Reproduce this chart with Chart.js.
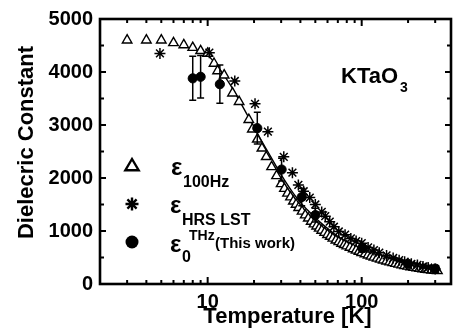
<!DOCTYPE html>
<html><head><meta charset="utf-8">
<script src="https://cdn.jsdelivr.net/npm/chart.js@4/dist/chart.umd.min.js"></script>
<style>html,body{margin:0;padding:0;background:#fff}#wrap{width:458px;height:332px}</style>
</head><body><div id="wrap"><canvas id="c" width="458" height="332"></canvas></div>
<script>
// ---- data ----
const triT   = [3,4,5,6,7,8,9,10,11,11.6,12.8,14.5,16,18.5,19.5,21,22.5,24,26,28,30,31.5,33,34.5,36,37.5,39,41,43,45,47,49,51,53,55,57.5,60,62.5,65,68,71,74,77,80,84,88,92,96,100,105,110,115,120,126,132,138,145,152,159,166,174,182,190,199,208,218,228,238,249,260,272,284,297,310];
const triEps = [4600,4600,4600,4550,4510,4460,4400,4350,4160,4020,3940,3600,3440,3100,2920,2730,2560,2400,2210,2040,1890,1800,1710,1640,1560,1500,1440,1370,1300,1240,1180,1130,1090,1050,1010,970,930,895,860,825,795,765,740,715,690,660,635,612,590,565,542,522,503,483,464,447,430,413,398,384,370,357,345,333,322,311,301,292,283,275,267,260,253,247];
const hrsT   = [4.9,10.25,15,20.3,24.6,31.2,35.5,38.8,42,46,50,55,58,62,66,71,78,85,92,100,110,120,130,145,160,175,190,210,230,250,270,300];
const hrsEps = [4350,4365,3830,3400,2875,2400,2100,1870,1750,1630,1500,1360,1280,1176,1080,990,930,860,810,770,690,640,590,540,490,450,420,380,360,330,310,285];
const thzT   = [8,9,12,21,30.2,40.8,50,101,200,300];
const thzEps = [3880,3910,3770,2940,2160,1640,1300,673,380,290];
const thzErr = [415,400,360,300,215,165,130,70,40,30];
const fitT   = [10,12,14,16,18,20,22,25,28,32,36,40,45,50,56,63,70,80,90,100,120,140,170,200,240,280,320];
const fitEps = [4330,4050,3760,3470,3200,2960,2740,2460,2210,1930,1710,1540,1380,1250,1120,1000,900,800,720,660,560,490,415,360,310,275,250];
const xLabels = [10,100];
const yMinorStep = 500;

const FONT = "'Liberation Sans', Arial, Helvetica, sans-serif";
const pts = (xs, ys) => xs.map((x,i)=>({x, y: ys[i]}));

const framePlugin = {
  id: 'frame',
  afterDraw(chart) {
    const {ctx, chartArea: a, scales: {x, y}} = chart;
    ctx.save();
    ctx.strokeStyle = '#000';
    ctx.lineWidth = 2;
    ctx.beginPath();
    for (let v = 0; v <= 5000; v += yMinorStep) {
      const py = y.getPixelForValue(v);
      const len = (v % 1000 === 0) ? 6 : 4;
      ctx.moveTo(a.left, py); ctx.lineTo(a.left + len, py);
      ctx.moveTo(a.right, py); ctx.lineTo(a.right - len, py);
    }
    [1, 10, 100].forEach(d => {
      for (let m = 1; m <= 9; m++) {
        const v = m * d;
        if (v < x.min || v > x.max) continue;
        const px = x.getPixelForValue(v);
        const len = (m === 1) ? 7 : 4;
        ctx.moveTo(px, a.bottom); ctx.lineTo(px, a.bottom - len);
        ctx.moveTo(px, a.top); ctx.lineTo(px, a.top + len);
      }
    });
    ctx.stroke();
    ctx.lineWidth = 2.6;
    ctx.strokeRect(a.left, a.top, a.right - a.left, a.bottom - a.top);
    // error bars
    ctx.lineWidth = 1.5;
    ctx.beginPath();
    thzT.forEach((t, i) => {
      const px = x.getPixelForValue(t);
      const p1 = y.getPixelForValue(thzEps[i] + thzErr[i]);
      const p2 = y.getPixelForValue(thzEps[i] - thzErr[i]);
      ctx.moveTo(px, p1); ctx.lineTo(px, p2);
      ctx.moveTo(px - 3.5, p1); ctx.lineTo(px + 3.5, p1);
      ctx.moveTo(px - 3.5, p2); ctx.lineTo(px + 3.5, p2);
    });
    ctx.stroke();
    // axis titles
    ctx.fillStyle = '#000';
    ctx.font = 'bold 22px ' + FONT;
    ctx.textAlign = 'center';
    ctx.textBaseline = 'alphabetic';
    ctx.fillText('Temperature [K]', 287.5, 323);
    ctx.save();
    ctx.translate(33, 142.5);
    ctx.rotate(-Math.PI / 2);
    ctx.fillText('Dielecric Constant', 0, 0);
    ctx.restore();
    // KTaO3 label
    ctx.textAlign = 'left';
    ctx.font = 'bold 22px ' + FONT;
    ctx.fillText('KTaO', 341, 83);
    ctx.font = 'bold 14px ' + FONT;
    ctx.fillText('3', 400, 92);
    // legend markers
    ctx.lineWidth = 2.4;
    let cx = 132, cy = 166, r = 7;
    ctx.beginPath();
    ctx.moveTo(cx, cy - r);
    ctx.lineTo(cx + r * 0.95, cy + r * 0.6);
    ctx.lineTo(cx - r * 0.95, cy + r * 0.6);
    ctx.closePath();
    ctx.fillStyle = '#fff'; ctx.fill(); ctx.stroke();
    cx = 132; cy = 204; r = 6.5;
    ctx.beginPath();
    for (let k = 0; k < 4; k++) {
      const ang = k * Math.PI / 4;
      ctx.moveTo(cx - Math.cos(ang) * r, cy - Math.sin(ang) * r);
      ctx.lineTo(cx + Math.cos(ang) * r, cy + Math.sin(ang) * r);
    }
    ctx.stroke();
    ctx.fillStyle = '#000';
    ctx.beginPath(); ctx.arc(132, 242, 6.5, 0, Math.PI * 2); ctx.fill();
    // legend texts
    const eps = '\u03B5';
    ctx.font = 'bold 24px ' + FONT;
    ctx.fillText(eps, 171, 175);
    ctx.fillText(eps, 170, 213);
    ctx.fillText(eps, 170, 252);
    ctx.font = 'bold 16px ' + FONT;
    ctx.fillText('100Hz', 183, 187);
    ctx.fillText('HRS LST', 182, 225);
    ctx.fillText('0', 182, 262);
    ctx.font = 'bold 14px ' + FONT;
    ctx.fillText('THz', 189, 240);
    ctx.font = 'bold 15px ' + FONT;
    ctx.fillText('(This work)', 215, 248);
    ctx.restore();
  }
};

new Chart(document.getElementById('c'), {
  type: 'scatter',
  data: {
    datasets: [
      { label: 'fit', data: pts(fitT, fitEps), showLine: true, borderColor: '#000', borderWidth: 1.4,
        pointRadius: 0, tension: 0.3, fill: false, order: 4 },
      { label: '100Hz', data: pts(triT, triEps), pointStyle: 'triangle', pointRadius: 5.5,
        backgroundColor: '#fff', borderColor: '#000', borderWidth: 1.4, order: 3 },
      { label: 'HRS LST', data: pts(hrsT, hrsEps), pointStyle: 'star', pointRadius: 5.5,
        backgroundColor: '#000', borderColor: '#000', borderWidth: 1.5, order: 2 },
      { label: 'THz', data: pts(thzT, thzEps), pointStyle: 'circle', pointRadius: 4.6,
        backgroundColor: '#000', borderColor: '#000', borderWidth: 1, order: 1 }
    ]
  },
  options: {
    responsive: false,
    animation: false,
    devicePixelRatio: 1,
    layout: { padding: { top: 19, right: 1, left: 0, bottom: 0 } },
    plugins: { legend: { display: false }, tooltip: { enabled: false } },
    scales: {
      x: {
        type: 'logarithmic', min: 2, max: 380, position: 'bottom',
        grid: { display: false, drawTicks: false },
        border: { display: false },
        ticks: {
          autoSkip: false, maxRotation: 0, padding: 6, color: '#000',
          font: { family: FONT, size: 20, weight: 'bold' },
          callback: (v) => xLabels.includes(Math.round(v * 1000) / 1000) ? String(v) : ''
        },
        afterFit: (s) => { s.height = 48; }
      },
      y: {
        type: 'linear', min: 0, max: 5000,
        grid: { display: false, drawTicks: false },
        border: { display: false },
        ticks: { stepSize: 1000, padding: 7, color: '#000',
          font: { family: FONT, size: 20, weight: 'bold' },
          callback: (v) => String(v) },
        afterFit: (s) => { s.width = 100; }
      }
    }
  },
  plugins: [framePlugin]
});
</script></body></html>
